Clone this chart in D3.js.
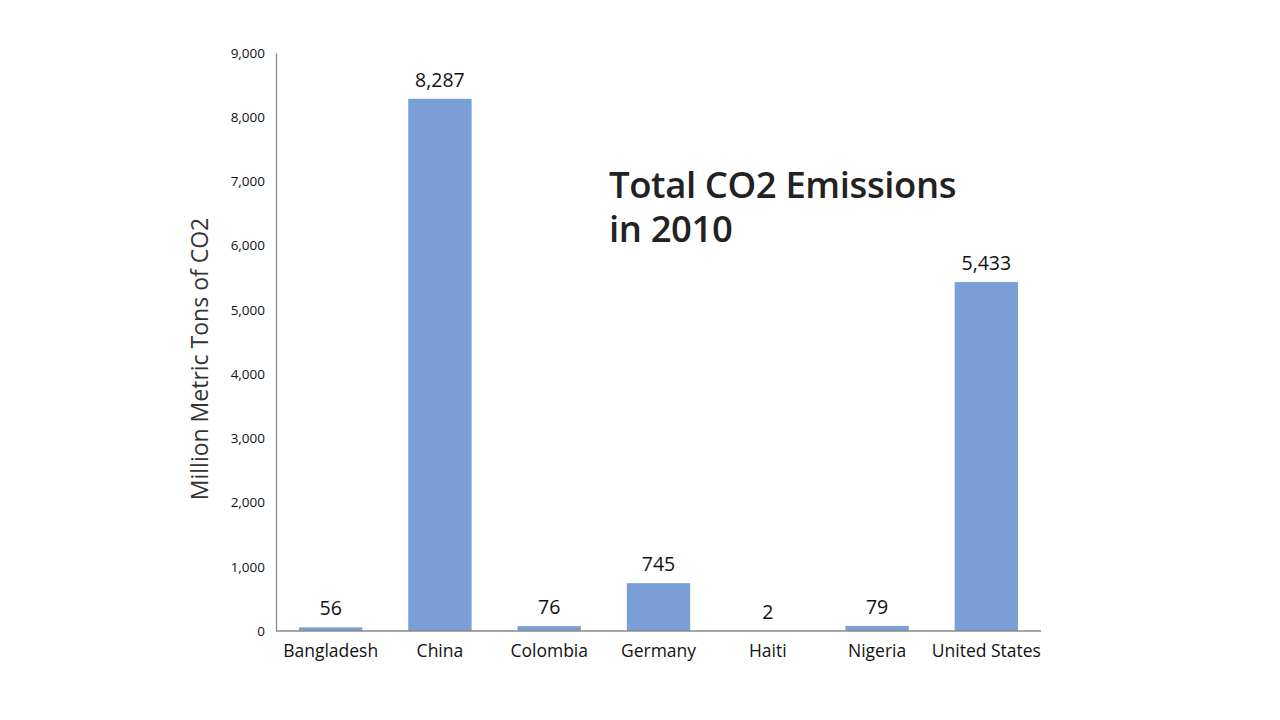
<!DOCTYPE html>
<html><head><meta charset="utf-8">
<script src="https://cdn.jsdelivr.net/npm/d3@7"></script>
<style>body{margin:0;background:#fff;}</style>
</head><body>
<svg id="c" width="1280" height="720"></svg>
<script>
const categories = ["Bangladesh","China","Colombia","Germany","Haiti","Nigeria","United States"];
const values = [56, 8287, 76, 745, 2, 79, 5433];
const yTicks = [0,1000,2000,3000,4000,5000,6000,7000,8000,9000];
const titleLines = ["Total CO2 Emissions","in 2010"];
const yLabel = "Million Metric Tons of CO2";

const svg = d3.select("#c");
const m = {left:276, right:1041, top:53, bottom:631};
const x = d3.scaleBand().domain(categories).range([m.left, m.right]).paddingInner(0.42).paddingOuter(0.21);
const y = d3.scaleLinear().domain([0,9000]).range([m.bottom, m.top]);
const font = "'Open Sans', 'Noto Sans', sans-serif";

// bars
svg.selectAll("rect.bar").data(values).enter().append("rect")
  .attr("x",(d,i)=>x(categories[i])).attr("width",x.bandwidth())
  .attr("y",d=>y(d)).attr("height",d=>y(0)-y(d)).attr("fill","#7a9fd7");

// y axis
const ya = svg.append("g").attr("transform",`translate(${m.left},0)`)
  .call(d3.axisLeft(y).tickValues(yTicks).tickSize(0).tickPadding(11).tickFormat(d3.format(",")));
ya.select(".domain").attr("stroke","#8a8a8a").attr("stroke-width",1.3);
ya.selectAll("text").attr("font-family",font).attr("font-size",13.5).attr("font-weight",500).attr("fill","#111");

// x axis
const xa = svg.append("g").attr("transform",`translate(0,${m.bottom})`)
  .call(d3.axisBottom(x).tickSize(0).tickPadding(14));
xa.select(".domain").attr("stroke","#8a8a8a").attr("stroke-width",1.3).attr("d",`M${m.left},0H${m.right}`);
xa.selectAll("text").attr("font-family",font).attr("font-size",17.5).attr("fill","#111");

// value labels
svg.selectAll("text.val").data(values).enter().append("text")
  .attr("x",(d,i)=>x(categories[i])+x.bandwidth()/2)
  .attr("y",d=>y(d)-12)
  .attr("text-anchor","middle").attr("font-family",font).attr("font-size",19.5).attr("fill","#111")
  .text(d=>d3.format(",")(d));

// title (two separate lines)
svg.selectAll("text.title").data(titleLines).enter().append("text")
  .attr("class","title")
  .attr("x",609).attr("y",(d,i)=>198+i*44).attr("font-family",font).attr("font-weight",600)
  .attr("font-size",36.5).attr("fill","#222").attr("letter-spacing",-0.4)
  .text(d=>d);

// y label
svg.append("text").attr("transform","translate(208,359) rotate(-90)")
  .attr("text-anchor","middle").attr("font-family",font).attr("font-size",23).attr("fill","#333")
  .text(yLabel);
</script>
</body></html>
